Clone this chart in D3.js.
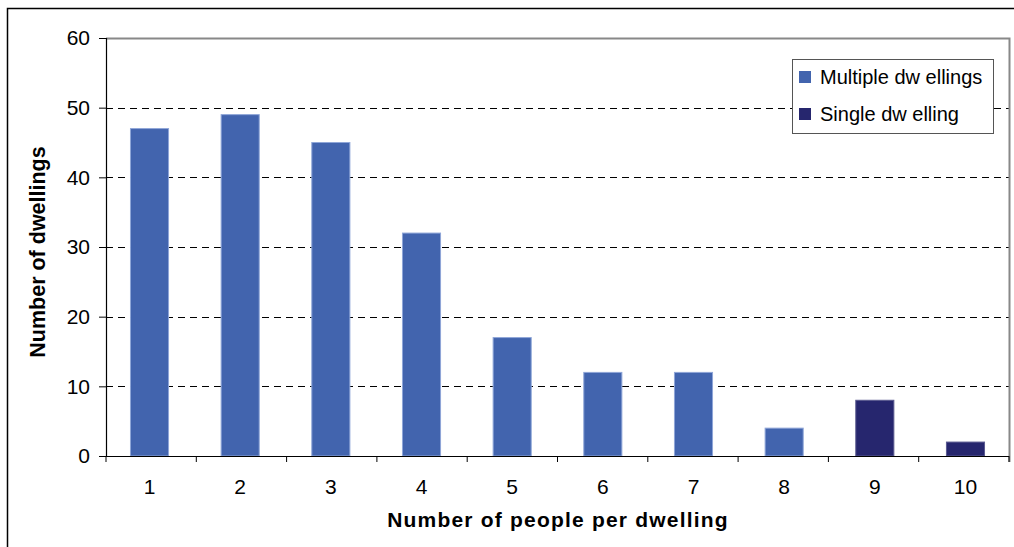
<!DOCTYPE html>
<html>
<head>
<meta charset="utf-8">
<script src="https://cdn.jsdelivr.net/npm/d3@7"></script>
<style>
  body { margin: 0; background: #fff; }
  svg { display: block; font-family: "Liberation Sans", Arial, sans-serif; }
</style>
</head>
<body>
<svg id="chart"></svg>
<script>
// people per dwelling
const categories = ["1", "2", "3", "4", "5", "6", "7", "8", "9", "10"];
const dwellingCounts = [47, 49, 45, 32, 17, 12, 12, 4, 8, 2];
const dwellingType = ["multiple", "multiple", "multiple", "multiple", "multiple",
  "multiple", "multiple", "multiple", "single", "single"];
const yTicks = [0, 10, 20, 30, 40, 50, 60];
const legendLabels = ["Multiple dw ellings", "Single dw elling"];

const width = 1014, height = 547;
const marginTop = 38, marginRight = 5, marginBottom = 91, marginLeft = 106;

const colors = { multiple: "#4264AE", single: "#26266E" };
const edges = { multiple: "#8FA6D8", single: "#5A5A90" };

const data = categories.map((c, i) => ({ cat: c, value: dwellingCounts[i], type: dwellingType[i] }));

const svg = d3.select("#chart")
  .attr("width", width)
  .attr("height", height)
  .attr("viewBox", [0, 0, width, height]);

// outer frame (runs off right/bottom)
svg.append("rect")
  .attr("x", 7.5).attr("y", 8.5)
  .attr("width", width + 10).attr("height", height + 10)
  .attr("fill", "none").attr("stroke", "#000").attr("stroke-width", 1.5);

const x = d3.scaleBand()
  .domain(categories)
  .range([marginLeft, width - marginRight])
  .paddingInner(0.58)
  .paddingOuter(0.27);

const y = d3.scaleLinear()
  .domain([0, 60])
  .range([height - marginBottom, marginTop]);

// gridlines
svg.append("g")
  .selectAll("line")
  .data(yTicks.filter(d => d > 0 && d < 60))
  .join("line")
  .attr("x1", marginLeft).attr("x2", width - marginRight)
  .attr("y1", d => Math.round(y(d)) + 0.5).attr("y2", d => Math.round(y(d)) + 0.5)
  .attr("stroke", "#000")
  .attr("stroke-dasharray", "7,5");

// plot area border top/right
svg.append("path")
  .attr("d", `M${marginLeft},${marginTop + 0.5}H${width - marginRight + 0.5}V${height - marginBottom + 6}`)
  .attr("fill", "none")
  .attr("stroke", "#888")
  .attr("stroke-width", 2);

// bars
svg.append("g")
  .selectAll("rect")
  .data(data)
  .join("rect")
  .attr("x", d => x(d.cat))
  .attr("y", d => y(d.value))
  .attr("width", x.bandwidth())
  .attr("height", d => y(0) - y(d.value))
  .attr("fill", d => colors[d.type])
  .attr("stroke", d => edges[d.type])
  .attr("stroke-width", 1);

// x axis with ticks between categories
const xEdges = d3.range(categories.length + 1).map(i => marginLeft + i * (width - marginRight - marginLeft) / categories.length);
const gx = svg.append("g");
gx.append("line")
  .attr("x1", marginLeft).attr("x2", width - marginRight)
  .attr("y1", y(0) + 0.5).attr("y2", y(0) + 0.5)
  .attr("stroke", "#000").attr("stroke-width", 1.2);
gx.selectAll(".tk")
  .data(xEdges)
  .join("line")
  .attr("class", "tk")
  .attr("x1", d => d).attr("x2", d => d)
  .attr("y1", y(0)).attr("y2", y(0) + 6)
  .attr("stroke", "#000");
gx.selectAll("text")
  .data(categories)
  .join("text")
  .attr("x", d => x(d) + x.bandwidth() / 2)
  .attr("y", y(0) + 38)
  .attr("text-anchor", "middle")
  .attr("font-size", 21)
  .attr("fill", "#000")
  .text(d => d);

// y axis
const gy = svg.append("g")
  .attr("transform", `translate(${marginLeft},0)`)
  .call(d3.axisLeft(y).tickValues(yTicks).tickSize(7).tickPadding(9))
  .call(g => g.select(".domain").attr("stroke", "#000").attr("stroke-width", 1.2));
gy.selectAll("text").attr("font-size", 21).attr("fill", "#000")
  .attr("font-family", "Liberation Sans, Arial, sans-serif");

// axis titles
svg.append("text")
  .attr("x", 558)
  .attr("y", 527)
  .attr("text-anchor", "middle")
  .attr("font-size", 21)
  .attr("font-weight", "bold")
  .attr("letter-spacing", 1.2)
  .text("Number of people per dwelling");

svg.append("text")
  .attr("transform", `translate(45,${(marginTop + y(0)) / 2 + 5}) rotate(-90)`)
  .attr("text-anchor", "middle")
  .attr("font-size", 21.5)
  .attr("font-weight", "bold")
  .text("Number of dwellings");

// legend
const legend = svg.append("g");
legend.append("rect")
  .attr("x", 792.5).attr("y", 59.5)
  .attr("width", 201).attr("height", 74)
  .attr("fill", "#fff").attr("stroke", "#555").attr("stroke-width", 1);
const items = legend.selectAll(".item")
  .data(legendLabels)
  .join("g")
  .attr("class", "item")
  .attr("transform", (d, i) => `translate(799,${71 + i * 37})`);
items.append("rect")
  .attr("width", 12).attr("height", 12)
  .attr("fill", (d, i) => i === 0 ? colors.multiple : colors.single);
items.append("text")
  .attr("x", 21).attr("y", 13)
  .attr("font-size", 20)
  .attr("fill", "#000")
  .text(d => d);
</script>
</body>
</html>
